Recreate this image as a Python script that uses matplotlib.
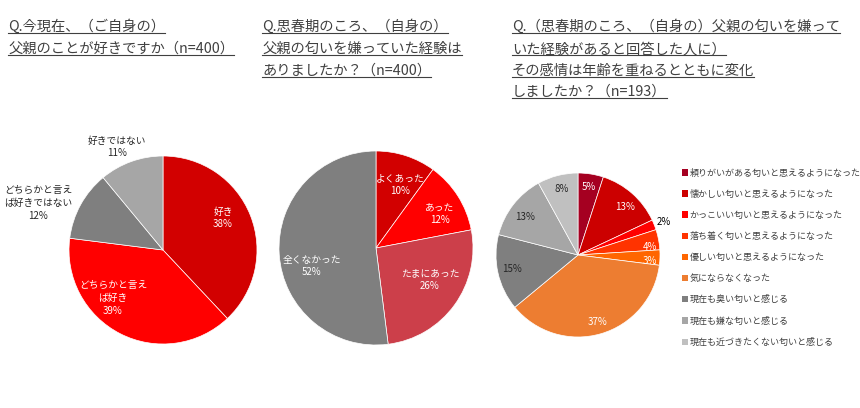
import matplotlib
matplotlib.use("Agg")
import matplotlib.pyplot as plt
from matplotlib.lines import Line2D
from matplotlib.patches import Patch

plt.rcParams['font.family'] = ['Noto Sans CJK JP', 'DejaVu Sans']

# -----------------------------
# Data
# -----------------------------
q1_labels = ["好き", "どちらかと言え\nば好き", "どちらかと言え\nば好きではない", "好きではない"]
q1_values = [38, 39, 12, 11]

q2_labels = ["よくあった", "あった", "たまにあった", "全くなかった"]
q2_values = [10, 12, 26, 52]

q3_labels = [
    "頼りがいがある匂いと思えるようになった",
    "懐かしい匂いと思えるようになった",
    "かっこいい匂いと思えるようになった",
    "落ち着く匂いと思えるようになった",
    "優しい匂いと思えるようになった",
    "気にならなくなった",
    "現在も臭い匂いと感じる",
    "現在も嫌な匂いと感じる",
    "現在も近づきたくない匂いと感じる",
]
q3_values = [5, 13, 2, 4, 3, 37, 15, 13, 8]

titles = [
    ["Q.今現在、（ご自身の）", "父親のことが好きですか（n=400）"],
    ["Q.思春期のころ、（自身の）", "父親の匂いを嫌っていた経験は", "ありましたか？（n=400）"],
    ["Q.（思春期のころ、（自身の）父親の匂いを嫌って", "いた経験があると回答した人に）",
     "その感情は年齢を重ねるとともに変化", "しましたか？（n=193）"],
]

# -----------------------------
# Styles / layout (pixels)
# -----------------------------
W, H = 860, 408
q1_colors = ["#D20000", "#FF0000", "#7F7F7F", "#A6A6A6"]
q2_colors = ["#D20000", "#FF0000", "#CC3F4A", "#7F7F7F"]
q3_colors = ["#A50021", "#CC0000", "#FF0000", "#FF3300", "#FF6600",
             "#ED7D31", "#7F7F7F", "#A6A6A6", "#C0C0C0"]

# label offsets from pie centre, in px (x right, y up)
q1_pos = [(60, 32), (-50, -48), (-125, 47), (-46, 103)]
q1_tc = ["white", "white", "#262626", "#262626"]
q2_pos = [(24, 63), (64, 34), (54, -32), (-64, -18)]
q2_tc = ["white"] * 4
q3_pos = [(11, 68), (47, 48), (86, 33), (72, 8), (72, -6), (20, -67),
          (-66, -14), (-53, 38), (-16, 66)]
q3_tc = ["white", "white", "black", "white", "white", "white",
         "#262626", "#262626", "#262626"]

fig = plt.figure(figsize=(W / 100, H / 100), dpi=100)
fig.patch.set_facecolor("white")


def pie_axes(cx, cy, r):
    ax = fig.add_axes([(cx - r) / W, (H - cy - r) / H, 2 * r / W, 2 * r / H])
    ax.axis("off")
    return ax


def draw_pie(ax, values, colors, labels, pos, tcolors, r):
    wedges, _ = ax.pie(values, colors=colors, startangle=90, counterclock=False,
                       radius=1, wedgeprops=dict(edgecolor="white", linewidth=0.5))
    ax.set_xlim(-1, 1)
    ax.set_ylim(-1, 1)
    ax.set_aspect("equal")
    for i, v in enumerate(values):
        txt = f"{v}%" if labels is None else f"{labels[i]}\n{v}%"
        ax.text(pos[i][0] / r, pos[i][1] / r, txt, ha="center", va="center",
                fontsize=7, color=tcolors[i], linespacing=1.35, clip_on=False)
    return wedges


ax1 = pie_axes(163, 250, 94)
draw_pie(ax1, q1_values, q1_colors, q1_labels, q1_pos, q1_tc, 94)

ax2 = pie_axes(376, 248, 97)
draw_pie(ax2, q2_values, q2_colors, q2_labels, q2_pos, q2_tc, 97)

ax3 = pie_axes(578, 255, 82)
w3 = draw_pie(ax3, q3_values, q3_colors, None, q3_pos, q3_tc, 82)

handles = [Patch(facecolor=c, edgecolor="none") for c in q3_colors]
fig.legend(handles, q3_labels, loc="upper left", bbox_to_anchor=(677 / W, 1 - 164 / H),
           frameon=False, fontsize=6.5, handlelength=0.7, handleheight=0.7,
           handletextpad=0.2, labelspacing=1.34, borderpad=0, labelcolor="#404040")

# -----------------------------
# Titles with underline
# -----------------------------
title_x = [8, 262, 512]
line_y = [27, 49, 71, 92]
title_texts = []
for tx, lines in zip(title_x, titles):
    for j, s in enumerate(lines):
        t = fig.text(tx / W, 1 - line_y[j] / H, s, ha="left", va="center",
                     fontsize=10.3, color="#404040")
        title_texts.append(t)

fig.canvas.draw()
renderer = fig.canvas.get_renderer()
for t in title_texts:
    bb = t.get_window_extent(renderer)
    yl = (bb.y0 + 1) / H
    fig.lines.append(Line2D([bb.x0 / W, bb.x1 / W], [yl, yl], transform=fig.transFigure,
                            color="#404040", linewidth=0.8))

fig.savefig("out.png", dpi=100)
